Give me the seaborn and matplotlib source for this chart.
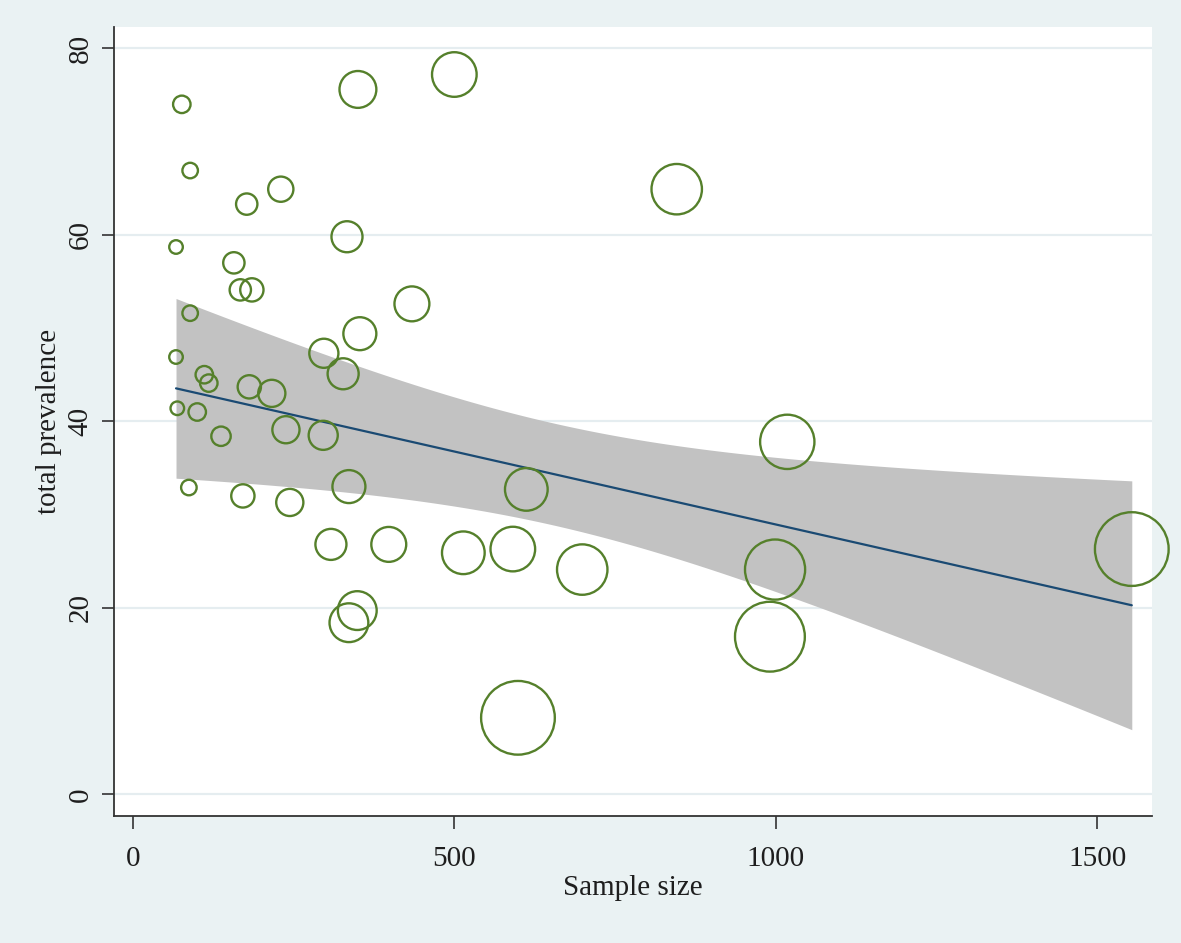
import numpy as np
import pandas as pd
import matplotlib
matplotlib.use("Agg")
import matplotlib.pyplot as plt
import seaborn as sns

# values
sample_size = [76, 89, 67, 89, 67, 69, 100, 111, 118, 137, 87, 171, 177, 230,
               157, 167, 185, 181, 216, 238, 244, 333, 297, 327, 353, 296, 336,
               308, 349, 336, 350, 500, 434, 398, 514, 591, 612, 699, 599, 846,
               1018, 999, 991, 1554]
total_prevalence = [74.0, 66.9, 58.7, 51.6, 46.9, 41.4, 41.0, 45.0, 44.1, 38.4,
                    32.9, 32.0, 63.3, 64.9, 57.0, 54.1, 54.1, 43.7, 43.0, 39.1,
                    31.3, 59.8, 47.3, 45.1, 49.4, 38.5, 33.0, 26.8, 19.7, 18.4,
                    75.6, 77.2, 52.6, 26.8, 25.9, 26.3, 32.7, 24.1, 8.2, 64.9,
                    37.8, 24.1, 16.9, 26.3]
# relative study weight (bubble area)
study_weight = [81, 64, 49, 64, 49, 49, 81, 81, 81, 100, 64, 144, 121, 169,
                121, 121, 144, 144, 196, 196, 196, 256, 225, 256, 289, 225, 289,
                256, 400, 400, 361, 529, 324, 324, 484, 529, 484, 676, 1444, 676,
                784, 961, 1296, 1444]

y_ticks = [0, 20, 40, 60, 80]
x_ticks = [0, 500, 1000, 1500]

df = pd.DataFrame({"Sample size": sample_size,
                   "total prevalence": total_prevalence,
                   "weight": study_weight})

# weighted linear fit with 95% CI (analytic weights)
x = df["Sample size"].to_numpy(float)
y = df["total prevalence"].to_numpy(float)
w = df["weight"].to_numpy(float)
w = w / w.mean()
X = np.column_stack([np.ones_like(x), x])
XtWX = X.T @ (w[:, None] * X)
beta = np.linalg.solve(XtWX, X.T @ (w * y))
resid = y - X @ beta
s2 = np.sum(w * resid ** 2) / (len(x) - 2)
cov = s2 * np.linalg.inv(XtWX)
grid = np.linspace(x.min(), x.max(), 200)
G = np.column_stack([np.ones_like(grid), grid])
pred = G @ beta
se = np.sqrt(np.einsum("ij,jk,ik->i", G, cov, G))
t975 = 2.018
fit = pd.DataFrame({"x": grid, "fit": pred,
                    "lo": pred - t975 * se, "hi": pred + t975 * se})

sns.set_style("white")
plt.rcParams["font.family"] = ["Liberation Serif", "DejaVu Serif"]

bg = "#eaf2f3"
green = "#55802b"
txt = "#1e1e1e"

fig = plt.figure(figsize=(11.81, 9.43), dpi=100, facecolor=bg)
ax = fig.add_axes([0.0968, 0.135, 0.8784, 0.8364])
ax.set_facecolor("white")

for t in y_ticks:
    ax.axhline(t, color="#e5edf0", lw=1.6, zorder=0)

ax.fill_between(fit["x"], fit["lo"], fit["hi"], color="#c2c2c2", lw=0, zorder=1)
sns.lineplot(data=fit, x="x", y="fit", color="#1a4a73", lw=1.6, ax=ax, zorder=2)

k = 1.95
sns.scatterplot(data=df, x="Sample size", y="total prevalence", size="weight",
                sizes=(0, k * max(study_weight)), size_norm=(0, max(study_weight)),
                legend=False, ax=ax, zorder=3)
pts = ax.collections[-1]
pts.set_facecolor("none")
pts.set_edgecolor(green)
pts.set_linewidth(1.7)
pts.set_clip_on(False)

ax.set_xlim(-29, 1585)
ax.set_ylim(-2.3, 82.3)
ax.set_xticks(x_ticks)
ax.set_yticks(y_ticks)
ax.set_xticklabels([str(v) for v in x_ticks], fontsize=21, color=txt)
ax.set_yticklabels([str(v) for v in y_ticks], fontsize=21, rotation=90,
                   va="center", color=txt)
ax.tick_params(axis="x", direction="out", length=9, width=1.2, color="#333333",
               bottom=True, pad=13)
ax.tick_params(axis="y", direction="out", length=9, width=1.2, color="#333333",
               left=True, pad=6)
ax.set_xlabel("Sample size", fontsize=21, labelpad=2, color=txt)
ax.set_ylabel("total prevalence", fontsize=21, labelpad=4, color=txt)

for side in ["top", "right"]:
    ax.spines[side].set_visible(False)
for side in ["left", "bottom"]:
    ax.spines[side].set_color("#333333")
    ax.spines[side].set_linewidth(1.3)

fig.savefig("out.png", dpi=100, facecolor=bg)
